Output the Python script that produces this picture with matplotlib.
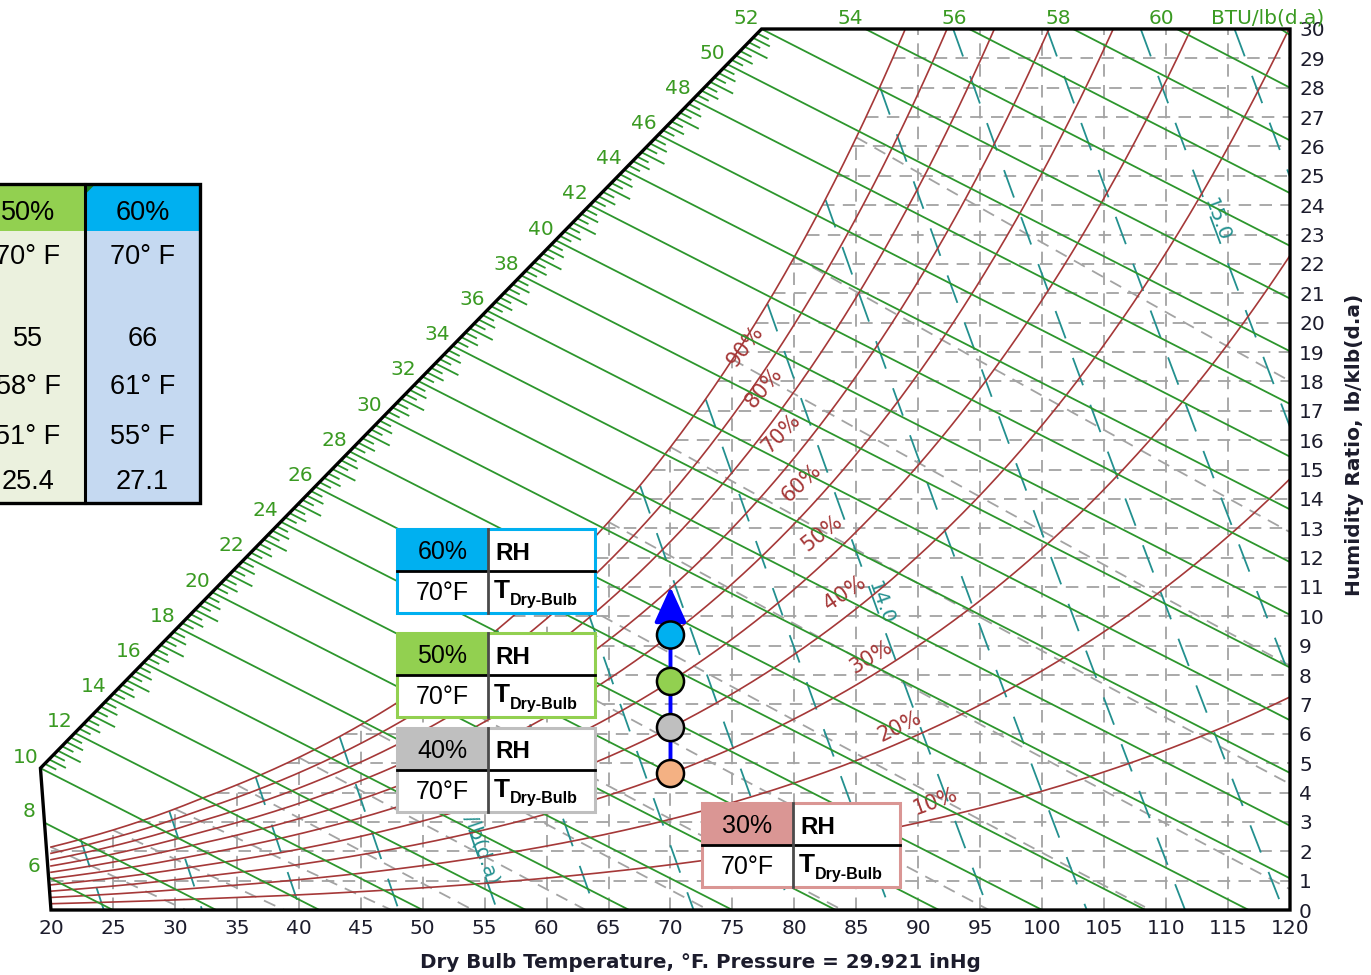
import numpy as np
import matplotlib
matplotlib.use("Agg")
import matplotlib.pyplot as plt
from matplotlib.patches import Polygon, Rectangle

plt.rcParams["lines.scale_dashes"] = False
plt.rcParams["font.family"] = ["DejaVu Sans"]

P_ATM = 14.696  # psia = 29.921 inHg

# chart lines
tdb_ticks = list(range(20, 125, 5))
w_ticks = list(range(0, 31))
rh_curves = [10, 20, 30, 40, 50, 60, 70, 80, 90, 100]
h_lines = list(range(6, 64, 2))
h_labels = list(range(6, 62, 2))
v_lines = [12.2, 12.4, 12.6, 12.8, 13.0, 13.2, 13.4, 13.6, 13.8, 14.0,
           14.2, 14.4, 14.6, 14.8, 15.0, 15.2]
twb_lines = [20, 25, 30, 35, 40, 45, 50, 55, 60, 65, 70, 75, 80, 85]

# state points: same dry bulb, rising RH
state_tdb = 70
state_rh = [30, 40, 50, 60]
state_colors = ["#f4b183", "#bfbfbf", "#92d050", "#00b0f0"]
box_colors = ["#da9694", "#bfbfbf", "#92d050", "#00b0f0"]

# summary table
table_cols = ["50%", "60%"]
table_rows = [["70° F", "70° F"], ["", ""], ["55", "66"],
              ["58° F", "61° F"], ["51° F", "55° F"], ["25.4", "27.1"]]

GREEN = "#2d962d"
GREEN_TXT = "#3a9a22"
RED = "#a53838"
TEAL = "#23908f"
GRAY = "#a3a3a3"
INK = "#1c1c2c"
TICK_FS = 14.5


def p_sat(t_f):
    t_f = np.asarray(t_f, float)
    t = t_f + 459.67
    ice = (-1.0214165e4 / t - 4.8932428 - 5.3765794e-3 * t + 1.9202377e-7 * t**2
           + 3.5575832e-10 * t**3 - 9.0344688e-14 * t**4 + 4.1635019 * np.log(t))
    water = (-1.0440397e4 / t - 1.1294650e1 - 2.7022355e-2 * t + 1.2890360e-5 * t**2
             - 2.4780681e-9 * t**3 + 6.5459673 * np.log(t))
    return np.exp(np.where(t_f < 32, ice, water))


def w_rh(t_f, rh):
    pv = np.asarray(rh) / 100.0 * p_sat(t_f)
    return 621.945 * pv / (P_ATM - pv)  # lb/klb


def w_wetbulb(t, twb):
    ws = w_rh(twb, 100) / 1000.0
    if twb >= 32:
        w = ((1093 - 0.556 * twb) * ws - 0.240 * (t - twb)) / (1093 + 0.444 * t - twb)
    else:
        w = ((1220 - 0.04 * twb) * ws - 0.240 * (t - twb)) / (1220 + 0.444 * t - 0.48 * twb)
    return w * 1000.0


def t_volume(v, w):
    return v * P_ATM / (0.370486 * (1 + 1.607858 * w / 1000.0)) - 459.67


fig = plt.figure(figsize=(13.71, 9.75), dpi=100)
X_LO, X_HI, Y_LO, Y_HI = 18, 120, 0, 30
ax = fig.add_axes([26.2 / 1371, 65 / 975, 1263.8 / 1371, 881 / 975])
ax.set_xlim(X_LO, X_HI)
ax.set_ylim(Y_LO, Y_HI)
SX = 1263.8 / (X_HI - X_LO)  # px per degF
SY = 881 / (Y_HI - Y_LO)     # px per lb/klb
for sp in ax.spines.values():
    sp.set_visible(False)

# outline: enthalpy scale on the left, then top/right/bottom edges
A = (19.15, 4.83)
B = (77.35, 30.0)
chart_poly = [(20, 0), A, B, (120, 30), (120, 0)]
chart_clip = Polygon(chart_poly, closed=True, transform=ax.transData)

tt = np.linspace(20, 120, 2001)
ws = w_rh(tt, 100)
below = ws <= 30
t30 = np.interp(30, ws, tt)
sat_poly = ([(20, 0)] + list(zip(tt[below], ws[below])) + [(t30, 30), (120, 30), (120, 0)])
sat_clip = Polygon(sat_poly, closed=True, transform=ax.transData)

GRID_DASH = (0, (9, 6))
# dry bulb / humidity ratio grid below saturation
for t in tdb_ticks[1:-1]:
    top = min(float(w_rh(t, 100)), 30)
    ln, = ax.plot([t, t], [0, top], color=GRAY, lw=1.3, ls=GRID_DASH, zorder=1)
    ln.set_clip_path(sat_clip)
for w in w_ticks[1:-1]:
    t0 = max(float(np.interp(w, ws, tt)), 20)
    ln, = ax.plot([t0, 120], [w, w], color=GRAY, lw=1.3, ls=GRID_DASH, zorder=1)
    ln.set_clip_path(sat_clip)

# wet bulb lines
for twb in twb_lines:
    t = np.arange(twb, 120.01, 0.1)
    w = w_wetbulb(t, twb)
    keep = w >= 0
    ln, = ax.plot(t[keep], w[keep], color=GRAY, lw=1.3, ls=GRID_DASH, zorder=1)
    ln.set_clip_path(sat_clip)

# specific volume lines
for v in v_lines:
    w = np.arange(30, -0.001, -0.02)
    t = t_volume(v, w)
    keep = (w <= w_rh(t, 100)) & (t <= 120) & (t >= 19.5)
    ln, = ax.plot(t[keep], w[keep], color=TEAL, lw=1.3, ls=(0, (21, 15)), zorder=2)
    ln.set_clip_path(sat_clip)

v_label_spots = [(13.0, "13.0 ft³/lb(d.a)", 3.25), (14.0, "14.0", 10.45), (15.0, "15.0", 23.5)]
for v, txt, wl in v_label_spots:
    tl = float(t_volume(v, wl))
    dt = float(t_volume(v, wl - 1)) - tl
    ang = np.degrees(np.arctan2(-1 * SY, dt * SX))
    ax.text(tl + 0.45, wl, txt, color=TEAL, fontsize=14.5, rotation=ang,
            rotation_mode="anchor", ha="center", va="center", zorder=3)

# relative humidity curves
for rh in rh_curves:
    ln, = ax.plot(tt, w_rh(tt, rh), color=RED, lw=1.2, zorder=3)
    ln.set_clip_path(chart_clip)

rh_label_spots = {90: (76.0, 19.2, 52), 80: (77.5, 17.8, 50), 70: (78.95, 16.25, 46),
                  60: (80.6, 14.55, 43), 50: (82.2, 12.85, 38), 40: (84.1, 10.8, 34),
                  30: (86.2, 8.6, 31), 20: (88.5, 6.25, 26), 10: (91.4, 3.7, 20)}
for rh, (tl, wl, rot) in rh_label_spots.items():
    ax.text(tl, wl, f"{rh}%", color=RED, fontsize=15, rotation=rot,
            rotation_mode="anchor", ha="center", va="center", zorder=4)


# enthalpy lines, starting on the scale and running to the chart edge
def h_start(h):
    if h <= 10:
        f = (h - 4.8) / (10 - 4.8)
        return 20 + f * (A[0] - 20), f * A[1]
    if h <= 52:
        f = (h - 10) / 42.0
        return A[0] + f * (B[0] - A[0]), A[1] + f * (B[1] - A[1])
    return B[0] + (h - 52) * 4.19, 30.0


def h_end(h):
    t0 = h / 0.24
    if t0 <= 120:
        return t0, 0.0
    return 120.0, (h - 0.24 * 120) / (1061 + 0.444 * 120) * 1000


for h in h_lines:
    (t1, w1), (t2, w2) = h_start(h), h_end(h)
    ln, = ax.plot([t1, t2], [w1, w2], color=GREEN, lw=1.3, zorder=4)
    ln.set_clip_path(chart_clip)

# minor ticks along the enthalpy scale
for hk in np.arange(10.25, 52.0, 0.25):
    if abs(hk / 2 - round(hk / 2)) < 1e-6:
        continue
    if abs(hk - round(hk)) < 1e-6:
        L = 25
    elif abs(hk * 2 - round(hk * 2)) < 1e-6:
        L = 18
    else:
        L = 12
    (t1, w1), (t2, w2) = h_start(hk), h_end(hk)
    dx, dy = (t2 - t1) * SX, (w2 - w1) * SY
    n = np.hypot(dx, dy)
    ax.plot([t1, t1 + L * dx / n / SX], [w1, w1 + L * dy / n / SY],
            color=GREEN, lw=1.3, zorder=4)

for h in h_labels:
    ax.annotate(str(h), xy=h_start(h), xytext=(-15, 11), textcoords="offset pixels",
                ha="center", va="center", color=GREEN_TXT, fontsize=TICK_FS,
                annotation_clip=False, zorder=6)

ax.add_patch(Polygon(chart_poly, closed=True, fill=False, edgecolor="black", lw=2.4,
                     joinstyle="miter", clip_on=False, zorder=6))

# state points and process arrow
w_states = w_rh(state_tdb, np.array(state_rh, float))
ax.annotate("", xy=(state_tdb, 11.0), xytext=(state_tdb, w_states[0]),
            arrowprops=dict(arrowstyle="-|>,head_length=2.2,head_width=1.0",
                            mutation_scale=10, lw=2.8, color="#0000ff",
                            shrinkA=0, shrinkB=0), zorder=7)
ax.scatter([state_tdb] * len(state_rh), w_states, s=380, c=state_colors,
           edgecolors="black", linewidths=1.8, zorder=8, clip_on=False)

# axes ticks
ax.set_xticks(tdb_ticks)
ax.set_xticklabels([str(t) for t in tdb_ticks])
ax.yaxis.tick_right()
ax.set_yticks(w_ticks)
ax.set_yticklabels([str(w) for w in w_ticks])
ax.tick_params(axis="x", length=0, pad=6.5, labelsize=TICK_FS, colors=INK)
ax.tick_params(axis="y", length=0, pad=6.5, labelsize=TICK_FS, colors=INK)

fig.text(700 / 1371, 1 - 962 / 975, "Dry Bulb Temperature, °F. Pressure = 29.921 inHg",
         ha="center", va="center", fontsize=14.3, fontweight="bold", color=INK)
fig.text(1355 / 1371, 1 - 445 / 975, "Humidity Ratio, lb/klb(d.a)", rotation=90,
         ha="center", va="center", fontsize=14.5, fontweight="bold", color=INK)
fig.text(1268 / 1371, 1 - 18 / 975, "BTU/lb(d.a)", ha="center", va="center",
         fontsize=TICK_FS, color=GREEN_TXT)

# overlay in pixel units for the boxes and the table
ov = fig.add_axes([0, 0, 1, 1], zorder=5)
ov.set_xlim(0, 1371)
ov.set_ylim(975, 0)
ov.axis("off")
ARIAL = "Liberation Sans"


def state_box(x0, y0, rh, color):
    w, h, xs = 198, 84, 91
    ov.add_patch(Rectangle((x0, y0), w, h, facecolor="white", edgecolor="none"))
    ov.add_patch(Rectangle((x0, y0), xs, h / 2, facecolor=color, edgecolor="none"))
    ov.plot([x0, x0 + w], [y0 + h / 2] * 2, color="black", lw=2)
    ov.plot([x0 + xs] * 2, [y0, y0 + h], color="#4a4a4a", lw=2)
    ov.add_patch(Rectangle((x0, y0), w, h, fill=False, edgecolor=color, lw=2.2))
    ov.text(x0 + xs / 2, y0 + h / 4 + 2, f"{rh}%", ha="center", va="center",
            fontsize=18, family=ARIAL, color="black")
    ov.text(x0 + xs / 2, y0 + 3 * h / 4 + 1, f"{state_tdb}°F", ha="center", va="center",
            fontsize=18, family=ARIAL, color="black")
    ov.text(x0 + xs + 7, y0 + h / 4 + 3, "RH", ha="left", va="center",
            fontsize=17.5, family=ARIAL, fontweight="bold", color="black")
    ov.text(x0 + xs + 6, y0 + 3 * h / 4 - 1, "T", ha="left", va="center",
            fontsize=19, family=ARIAL, fontweight="bold", color="black")
    ov.text(x0 + xs + 22, y0 + 3 * h / 4 + 8, "Dry-Bulb", ha="left", va="center",
            fontsize=11.5, family=ARIAL, fontweight="bold", color="black")


box_spots = [(702, 803), (397, 728), (397, 633), (397, 529)]
for (bx, by), rh, col in zip(box_spots, state_rh, box_colors):
    state_box(bx, by, rh, col)

# summary table, partly off the left edge
col_edges = [-29, 85, 200]
t_top, t_head, t_bot = 184, 231, 503
body_fill = ["#ebf1de", "#c5d9f1"]
head_fill = ["#92d050", "#00b0f0"]
row_y = [257, 298, 339, 387, 437, 482]
for i in range(2):
    x0, x1 = col_edges[i], col_edges[i + 1]
    ov.add_patch(Rectangle((x0, t_top), x1 - x0, t_bot - t_top, facecolor=body_fill[i],
                           edgecolor="none"))
    ov.add_patch(Rectangle((x0, t_top), x1 - x0, t_head - t_top, facecolor=head_fill[i],
                           edgecolor="none"))
    xc = (x0 + x1) / 2
    ov.text(xc, (t_top + t_head) / 2 + 5, table_cols[i], ha="center", va="center",
            fontsize=19.5, family=ARIAL, color="black")
    for ry, row in zip(row_y, table_rows):
        ov.text(xc, ry, row[i], ha="center", va="center", fontsize=19.5,
                family=ARIAL, color="black")
ov.plot([col_edges[0], 200, 200, col_edges[0]], [t_top, t_top, t_bot, t_bot],
        color="black", lw=2.4, solid_joinstyle="miter")
ov.plot([85, 85], [t_top, t_bot], color="black", lw=2.2)
ov.add_patch(Polygon([(86.5, 185.5), (94, 185.5), (86.5, 193)], closed=True,
                     facecolor="#1e7a1e", edgecolor="none"))

fig.savefig("out.png", dpi=100, facecolor="white")
